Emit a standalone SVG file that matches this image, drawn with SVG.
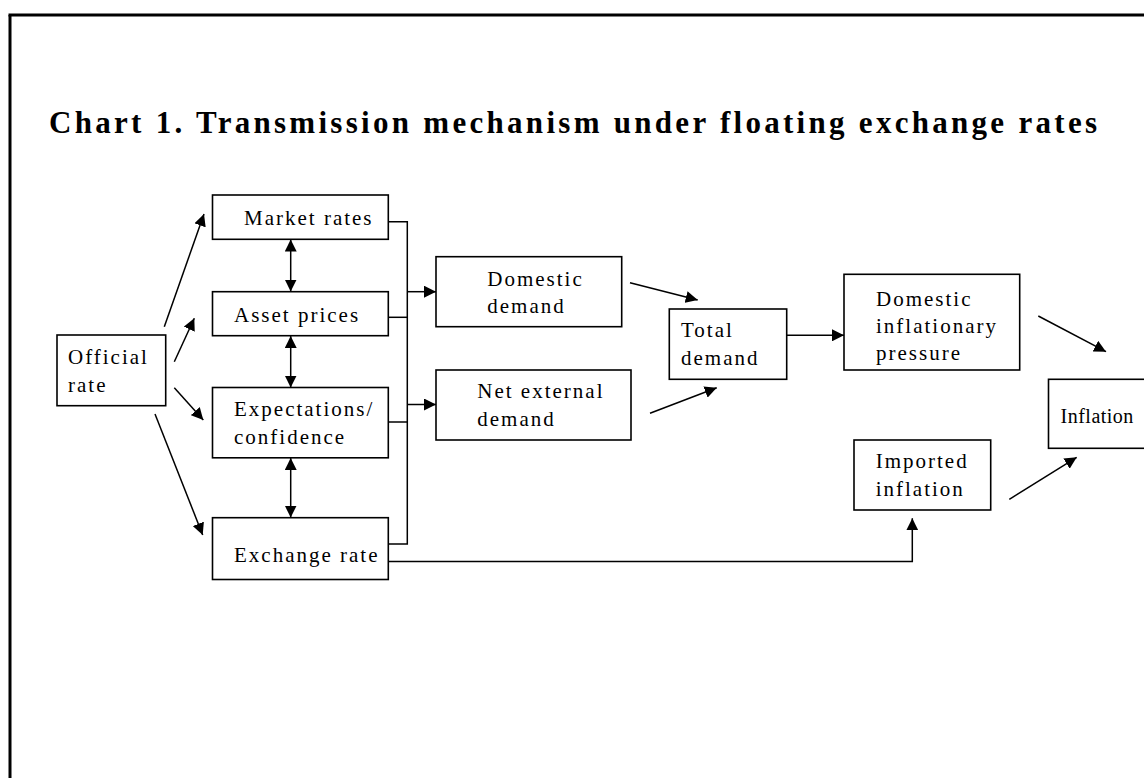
<svg xmlns="http://www.w3.org/2000/svg" width="1144" height="778" viewBox="0 0 1144 778">
<defs>
<style>
.box{fill:#fff;stroke:#000;stroke-width:1.6}
.t{font-family:"Liberation Serif","Times New Roman",serif;font-size:21px;letter-spacing:2px;fill:#000}
.c{fill:none;stroke:#000;stroke-width:1.5}
.a{fill:none;stroke:#000;stroke-width:1.5;marker-end:url(#ah)}
.b{fill:none;stroke:#000;stroke-width:1.5;marker-start:url(#ah);marker-end:url(#ah)}
</style>
<marker id="ah" viewBox="0 0 12 12" refX="12" refY="6" markerWidth="12" markerHeight="12" markerUnits="userSpaceOnUse" orient="auto-start-reverse">
<path d="M0,0 L12,6 L0,12 z" fill="#000"/>
</marker>
</defs>
<rect x="0" y="0" width="1144" height="778" fill="#fff"/>
<g id="frame">
<line x1="8.5" y1="15" x2="1144" y2="15" stroke="#000" stroke-width="3"/>
<line x1="10" y1="15" x2="10" y2="778" stroke="#000" stroke-width="3"/>
</g>
<text id="title" x="49" y="133" font-family="Liberation Serif, Times New Roman, serif" font-size="31" font-weight="bold" textLength="1048" lengthAdjust="spacing">Chart 1. Transmission mechanism under floating exchange rates</text>

<g id="connectors">
<line class="a" x1="164.3" y1="326.7" x2="204" y2="214"/>
<line class="a" x1="174.3" y1="361.7" x2="194.3" y2="318.3"/>
<line class="a" x1="174.3" y1="387.7" x2="203.3" y2="420"/>
<line class="a" x1="155" y1="414" x2="202.7" y2="535"/>
<line class="b" x1="290.7" y1="239.5" x2="290.7" y2="291.5"/>
<line class="b" x1="290.7" y1="336" x2="290.7" y2="387.5"/>
<line class="b" x1="290.7" y1="458" x2="290.7" y2="517.5"/>
<polyline class="c" points="388,221.7 407.3,221.7 407.3,544 388,544"/>
<line class="c" x1="388" y1="317.3" x2="407.3" y2="317.3"/>
<line class="c" x1="388" y1="422" x2="407.3" y2="422"/>
<line class="a" x1="407.3" y1="291.7" x2="436" y2="291.7"/>
<line class="a" x1="407.3" y1="404.5" x2="436" y2="404.5"/>
<line class="a" x1="630" y1="282.7" x2="697.7" y2="300"/>
<line class="a" x1="650" y1="413.3" x2="716.7" y2="387.7"/>
<line class="a" x1="787" y1="335.3" x2="844" y2="335.3"/>
<line class="a" x1="1038.3" y1="316" x2="1106" y2="351.7"/>
<line class="a" x1="1009.3" y1="499.3" x2="1076.7" y2="457.3"/>
<polyline class="a" points="388,561.5 912.3,561.5 912.3,518.3"/>
</g>

<g id="official-rate">
<rect class="box" x="57" y="335" width="108.7" height="70.7"/>
<text class="t" x="68" y="364">Official</text>
<text class="t" x="68" y="391.5">rate</text>
</g>
<g id="market-rates">
<rect class="box" x="212.5" y="195" width="175.8" height="44.3"/>
<text class="t" x="244" y="225">Market rates</text>
</g>
<g id="asset-prices">
<rect class="box" x="212.5" y="291.7" width="175.8" height="44"/>
<text class="t" x="234" y="321.7">Asset prices</text>
</g>
<g id="expectations">
<rect class="box" x="212.5" y="387.5" width="175.8" height="70.3"/>
<text class="t" x="234" y="416">Expectations/</text>
<text class="t" x="234" y="444">confidence</text>
</g>
<g id="exchange-rate">
<rect class="box" x="212.5" y="517.7" width="175.8" height="61.8"/>
<text class="t" x="234" y="561.7">Exchange rate</text>
</g>
<g id="domestic-demand">
<rect class="box" x="436" y="256.7" width="185.7" height="70"/>
<text class="t" x="487.3" y="286">Domestic</text>
<text class="t" x="487.3" y="313.3">demand</text>
</g>
<g id="net-external-demand">
<rect class="box" x="436" y="370" width="195" height="70"/>
<text class="t" x="477.3" y="398.3">Net external</text>
<text class="t" x="477.3" y="425.8">demand</text>
</g>
<g id="total-demand">
<rect class="box" x="669.3" y="309" width="117.4" height="70.3"/>
<text class="t" x="681" y="337.3">Total</text>
<text class="t" x="681" y="365">demand</text>
</g>
<g id="domestic-inflationary-pressure">
<rect class="box" x="844" y="274.3" width="175.7" height="95.7"/>
<text class="t" x="876" y="305.7">Domestic</text>
<text class="t" x="876" y="333.3">inflationary</text>
<text class="t" x="876" y="360">pressure</text>
</g>
<g id="imported-inflation">
<rect class="box" x="854" y="440" width="136.7" height="70"/>
<text class="t" x="875.7" y="468.3">Imported</text>
<text class="t" x="875.7" y="496">inflation</text>
</g>
<g id="inflation">
<rect class="box" x="1048.5" y="379.3" width="100" height="69"/>
<text class="t" x="1060.5" y="423" style="font-size:20px;letter-spacing:0.5px">Inflation</text>
</g>
</svg>
